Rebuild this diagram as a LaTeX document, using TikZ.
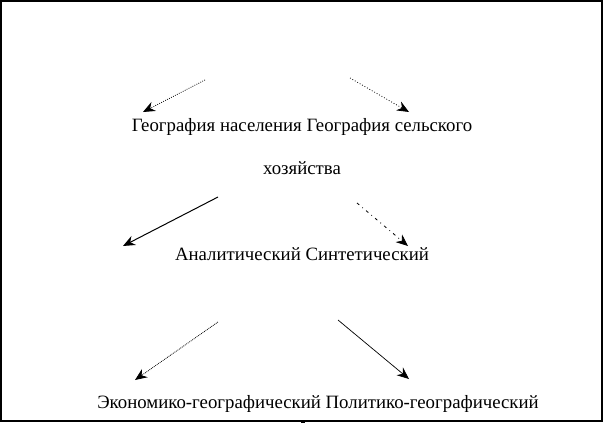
\documentclass[tikz,border=0pt]{standalone}
\usepackage{fontspec}
\setmainfont{Liberation Serif}
\usetikzlibrary{arrows.meta}
\begin{document}
\begin{tikzpicture}[x=1pt,y=-1pt,
  lbl/.style={font=\fontsize{18.8}{22}\selectfont,inner sep=0pt,anchor=center},
  arr/.style={-{Stealth[length=12pt,width=10pt]},line width=0.8pt}]
\useasboundingbox (0,0) rectangle (604,423);
\draw[line width=1.2pt] (1,1) rectangle (602,421);
\fill (301,420) rectangle (305,423);
\node[lbl] (t1) at (302,127) {География населения География сельского};
\node[lbl] (t2) at (302,168) {хозяйства};
\node[lbl] (t3) at (302,254) {Аналитический Синтетический};
\node[lbl] (t4) at (318,404) {Экономико-географический Политико-географический};
\coordinate (a1s) at (205,80); \coordinate (a1e) at (143,112);
\coordinate (a2s) at (350,78); \coordinate (a2e) at (409,112);
\coordinate (a3s) at (218,197); \coordinate (a3e) at (123,246);
\coordinate (a4s) at (357,203); \coordinate (a4e) at (408,246);
\coordinate (a5s) at (218,322); \coordinate (a5e) at (135,380);
\coordinate (a6s) at (338,320); \coordinate (a6e) at (409,379);
\draw[arr,dash pattern=on 0.8pt off 1.4pt] (a1s) -- (a1e);
\draw[arr,dash pattern=on 0.8pt off 2pt] (a2s) -- (a2e);
\draw[arr,line width=1pt] (a3s) -- (a3e);
\draw[arr,dash pattern=on 3pt off 4pt on 0.8pt off 4pt] (a4s) -- (a4e);
\draw[arr,dash pattern=on 0.8pt off 1pt] (a5s) -- (a5e);
\draw[arr,line width=0.7pt] (a6s) -- (a6e);
\end{tikzpicture}
\end{document}
